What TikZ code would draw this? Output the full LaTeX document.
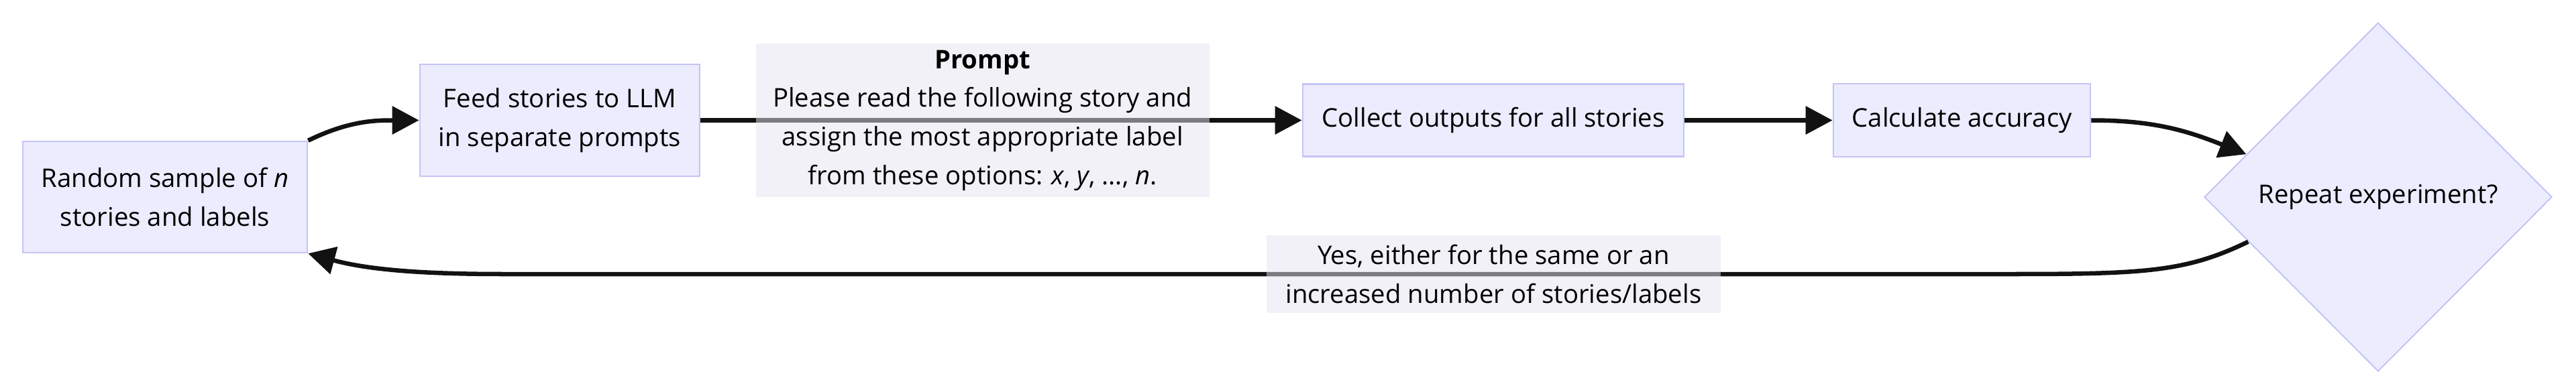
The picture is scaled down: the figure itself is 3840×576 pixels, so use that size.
\documentclass[tikz,border=0pt]{standalone}
\usepackage{fontspec}
\setmainfont{Open Sans}
\usetikzlibrary{shapes.geometric,arrows.meta}
\definecolor{nodefill}{HTML}{ECECFF}
\definecolor{nodeline}{HTML}{C4C4F6}
\definecolor{edgecol}{HTML}{121212}
\definecolor{lblfill}{HTML}{E6E4EF}
\tikzset{
  box/.style={draw=nodeline, fill=nodefill, line width=0.024cm, inner sep=0, align=center, font=\fontsize{10.9}{16.4}\selectfont},
  decision/.style={diamond, draw=nodeline, fill=nodefill, line width=0.02cm, inner sep=0, align=center, font=\fontsize{10.9}{16.4}\selectfont},
  edge/.style={draw=edgecol, line width=0.065cm, -{Triangle[length=0.4cm,width=0.41cm]}},
  lbl/.style={fill=lblfill, fill opacity=0.5, text opacity=1, inner sep=0, align=center, font=\fontsize{10.9}{16.4}\selectfont}
}
\begin{document}
\begin{tikzpicture}[x=0.01cm, y=-0.01cm]
\useasboundingbox (0,0) rectangle (3840,576);
\node[box, minimum width=4.24cm, minimum height=1.66cm] (rand) at (246,294) {Random sample of \textit{n}\\stories and labels};
\node[box, minimum width=4.17cm, minimum height=1.67cm] (feed) at (834.5,179.5) {Feed stories to LLM\\in separate prompts};
\node[box, minimum width=5.68cm, minimum height=1.08cm] (collect) at (2226,179.5) {Collect outputs for all stories};
\node[box, minimum width=3.83cm, minimum height=1.09cm] (calc) at (2924.5,179.5) {Calculate accuracy};
\node[decision, minimum width=5.18cm, minimum height=5.20cm] (dia) at (3545,294) {Repeat experiment?};

\draw[edge] (rand.north east) .. controls (520,180) and (560,179.5) .. (feed.west);
\draw[edge] (feed.east) -- node[lbl, pos=0.469, minimum width=6.76cm, minimum height=2.29cm] (prompt) {\textbf{Prompt}\\Please read the following story and\\assign the most appropriate label\\from these options: \textit{x}, \textit{y}, ..., \textit{n}.} (collect.west);
\draw[edge] (collect.east) -- (calc.west);
\draw[edge] (calc.east) .. controls (3210,179.5) and (3260,195) .. (dia.162);
\coordinate (bend1) at (3000,409);
\coordinate (bend2) at (750,409);
\draw[edge] (dia.199) .. controls (3260,405) and (3200,409) .. (bend1) -- node[lbl, pos=0.3438, minimum width=6.77cm, minimum height=1.15cm] (yes) {Yes, either for the same or an\\increased number of stories/labels} (bend2) .. controls (610,409) and (540,400) .. (rand.south east);
\end{tikzpicture}
\end{document}
